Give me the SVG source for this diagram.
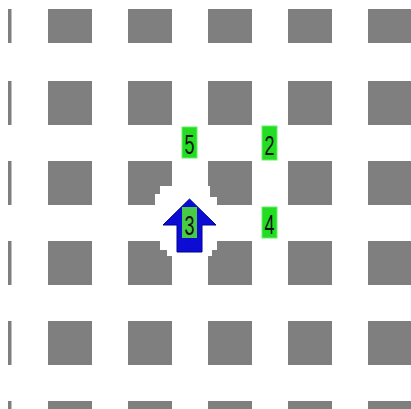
<svg xmlns="http://www.w3.org/2000/svg" width="411" height="409" viewBox="0 0 411 409">
<style>
.sq{fill:#7f7f7f}
.lbl{fill:#22dd22;stroke:#66ee66;stroke-width:1}
.num{font-family:"Liberation Sans",Arial,sans-serif;font-size:28px;fill:#111;text-anchor:middle}
</style>
<defs>
<g id="row">
<rect class="sq" x="8" y="0" width="3.5" height="44"/>
<rect class="sq" x="48" y="0" width="44" height="44"/>
<rect class="sq" x="128" y="0" width="44" height="44"/>
<rect class="sq" x="208" y="0" width="44" height="44"/>
<rect class="sq" x="288" y="0" width="44" height="44"/>
<rect class="sq" x="368" y="0" width="44" height="44"/>
</g>
</defs>
<rect width="411" height="409" fill="#ffffff"/>
<g id="grid">
<svg x="0" y="9" width="411" height="34" viewBox="0 0 411 34" overflow="hidden"><use href="#row"/></svg>
<use href="#row" y="81"/>
<use href="#row" y="161"/>
<use href="#row" y="241"/>
<use href="#row" y="321"/>
<use href="#row" y="401"/>
</g>
<g id="halo">
<path d="M160,186 H210 V197 H217 V250 H212 V256 H167 V250 H160 V241 H155 V194 H160 Z" fill="#ffffff"/>
</g>
<g id="connectors"></g>
<g id="node-arrow">
<polygon points="189.5,199 216,225 202,225 202,252 177,252 177,225 163,225" fill="#0c0cd4" stroke="#000090" stroke-width="1"/>
<rect x="182" y="207" width="15" height="31" fill="#48cc48"/>
<text class="num" x="189.5" y="235" textLength="10" lengthAdjust="spacingAndGlyphs">3</text>
</g>
<g id="node-5">
<rect class="lbl" x="182" y="127" width="15" height="31"/>
<text class="num" x="189.5" y="154" textLength="10" lengthAdjust="spacingAndGlyphs">5</text>
</g>
<g id="node-2">
<rect class="lbl" x="262" y="126" width="15" height="34"/>
<text class="num" x="269.5" y="155" textLength="10" lengthAdjust="spacingAndGlyphs">2</text>
</g>
<g id="node-4">
<rect class="lbl" x="262" y="207" width="15" height="31"/>
<text class="num" x="269.5" y="234" textLength="10" lengthAdjust="spacingAndGlyphs">4</text>
</g>
</svg>
